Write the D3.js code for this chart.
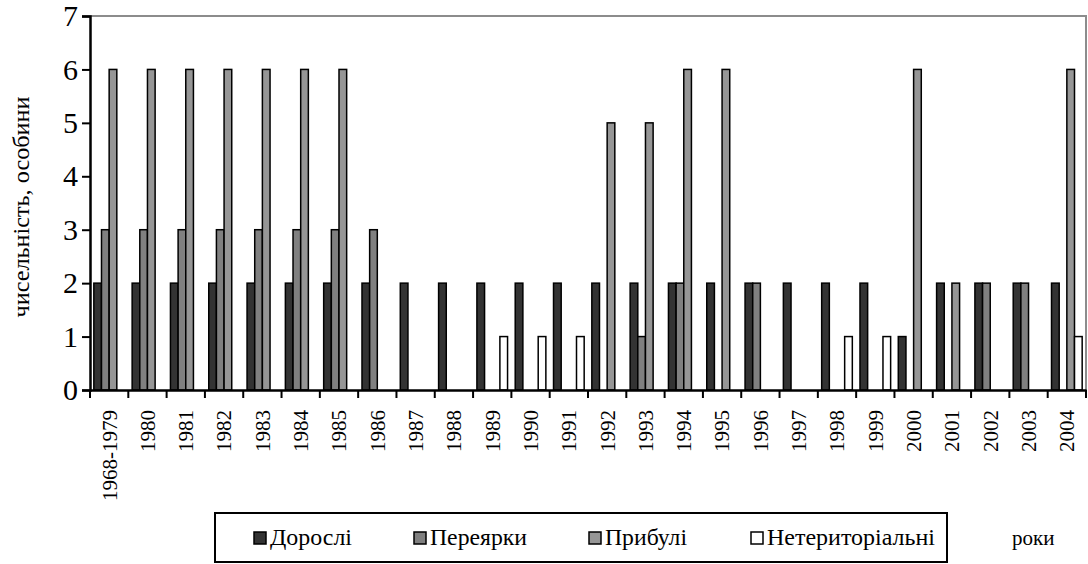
<!DOCTYPE html>
<html><head><meta charset="utf-8">
<script src="https://cdn.jsdelivr.net/npm/d3@7/dist/d3.min.js"></script>
<style>
html,body{margin:0;padding:0;background:#fff;}
svg{display:block;}
svg text{font-family:"Liberation Serif","Times New Roman",Tinos,Times,"DejaVu Serif","Noto Serif",serif !important;fill:#000;}
</style></head>
<body><svg id="c" width="1088" height="564"></svg>
<script>
const categories = ["1968-1979","1980","1981","1982","1983","1984","1985","1986","1987","1988","1989","1990","1991","1992","1993","1994","1995","1996","1997","1998","1999","2000","2001","2002","2003","2004"];
const seriesNames = ["Дорослі","Переярки","Прибулі","Нетериторіальні"];
const adults      = [2,2,2,2,2,2,2,2,2,2,2,2,2,2,2,2,2,2,2,2,2,1,2,2,2,2];
const yearlings   = [3,3,3,3,3,3,3,3,0,0,0,0,0,0,1,2,0,2,0,0,0,0,0,2,2,0];
const arrivals    = [6,6,6,6,6,6,6,0,0,0,0,0,0,5,5,6,6,0,0,0,0,6,2,0,0,6];
const nonTerr     = [0,0,0,0,0,0,0,0,0,0,1,1,1,0,0,0,0,0,0,1,1,0,0,0,0,1];
const yTicks = [0,1,2,3,4,5,6,7];
const colors = ["#333333","#808080","#969696","#ffffff"];
const seriesValues = [adults, yearlings, arrivals, nonTerr];

const svg = d3.select("#c");
const pLeft = 90, pRight = 1086, pTop = 16, pBottom = 390;

const x = d3.scaleBand().domain(categories).range([pLeft, pRight]).paddingInner(0).paddingOuter(0);
const xs = d3.scaleBand().domain(seriesNames).range([0, x.bandwidth()]).paddingInner(0).paddingOuter(0.5);
const y = d3.scaleLinear().domain([0, 7]).range([pBottom, pTop]);

// plot area border (top & right grey)
svg.append("path").attr("d", `M${pLeft},${pTop}H${pRight}V${pBottom}`)
  .attr("fill","none").attr("stroke","#8c8c8c").attr("stroke-width",2);

// bars
const data = [];
categories.forEach((c, i) => seriesNames.forEach((s, j) => {
  const v = seriesValues[j][i];
  if (v > 0) data.push({c, s, v, j});
}));
svg.append("g").selectAll("rect").data(data).join("rect")
  .attr("x", d => x(d.c) + xs(d.s))
  .attr("y", d => y(d.v))
  .attr("width", xs.bandwidth())
  .attr("height", d => y(0) - y(d.v))
  .attr("fill", d => colors[d.j])
  .attr("stroke", "#000").attr("stroke-width", 1.5);

// y axis
const yAxis = svg.append("g").attr("transform", `translate(${pLeft},0)`)
  .call(d3.axisLeft(y).tickValues(yTicks).tickFormat(d3.format("d")).tickSize(8).tickPadding(4));
yAxis.select(".domain").attr("stroke","#000").attr("stroke-width",2.5);
yAxis.selectAll(".tick line").attr("stroke","#000").attr("stroke-width",2);
yAxis.selectAll(".tick text").attr("font-size", 30);

// x axis
const xAxis = svg.append("g").attr("transform", `translate(0,${pBottom})`)
  .call(d3.axisBottom(x).tickSize(0).tickPadding(0));
xAxis.select(".domain").attr("stroke","#000").attr("stroke-width",2.5);
xAxis.selectAll(".tick text")
  .attr("font-size", 21)
  .attr("text-anchor","end")
  .attr("transform","translate(0,20) rotate(-90)")
  .attr("x",0).attr("y",0).attr("dy","0.35em");
// boundary ticks
const bounds = categories.map(c => x(c)).concat([pRight]);
svg.append("g").selectAll("line").data(bounds).join("line")
  .attr("x1", d => d).attr("x2", d => d)
  .attr("y1", pBottom).attr("y2", pBottom + 8)
  .attr("stroke","#000").attr("stroke-width",2);

// y title
svg.append("text").attr("transform","translate(21,207) rotate(-90)")
  .attr("text-anchor","middle").attr("dy","0.35em")
  .attr("font-size",23).attr("textLength",221).attr("lengthAdjust","spacingAndGlyphs")
  .text("чисельність, особини");

// legend
svg.append("rect").attr("x",215).attr("y",513).attr("width",732).attr("height",49)
  .attr("fill","#fff").attr("stroke","#000").attr("stroke-width",2);
const legX = [254, 414, 589, 751];
const legW = [82, 97, 82, 168];
seriesNames.forEach((s, j) => {
  svg.append("rect").attr("x",legX[j]).attr("y",532).attr("width",12).attr("height",12)
    .attr("fill",colors[j]).attr("stroke","#000").attr("stroke-width",1.5);
  svg.append("text").attr("x",legX[j]+16).attr("y",545).attr("font-size",23)
    .attr("textLength",legW[j]).attr("lengthAdjust","spacingAndGlyphs").text(s);
});
svg.append("text").attr("x",1012).attr("y",545).attr("font-size",21).text("роки");
</script></body></html>
